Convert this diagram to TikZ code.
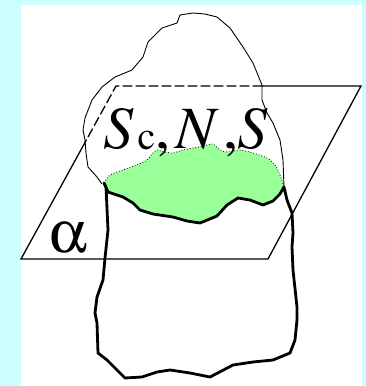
\documentclass[tikz,border=0pt]{standalone}
\usepackage[T1]{fontenc}
\usepackage[Symbol]{upgreek}
\newcommand{\timesfam}{\fontencoding{T1}\fontfamily{ptm}\selectfont}
\definecolor{frame}{RGB}{204,255,255}
\definecolor{section}{RGB}{153,255,153}
\tikzset{
  planeline/.style={line width=1.3pt, line cap=round},
  thinrim/.style={line width=0.9pt, line join=round},
  thickrim/.style={line width=2.8pt, line join=round, line cap=round},
  bigtext/.style={inner sep=0pt, font=\timesfam\fontsize{60}{60}\selectfont}
}
\begin{document}
\begin{tikzpicture}[x=1pt, y=-1pt]
  % page background and white panel
  \fill[frame] (0,0) rectangle (366,386);
  \fill[white] (21,5) rectangle (362,386);
  \useasboundingbox (0,0) rectangle (366,386);

  % green cross-section
  \fill[section] plot[smooth, tension=0.4] coordinates {(104,183) (110,175) (123,170) (137,165) (147,160) (152,154) (157,150) (165,152) (173,153) (183,150) (193,148) (203,146) (213,144) (220,150) (227,152) (240,150) (253,153) (267,158) (275,165) (280,175) (284,187)}
    -- plot[smooth, tension=0.4] coordinates {(284,187) (280,194) (273,201) (263,205) (250,200) (238,198) (227,205) (217,216) (200,223) (187,221) (173,217) (153,214) (140,210) (133,203) (123,197) (108,192) (104,183)} -- cycle;

  % plane alpha
  \coordinate (pTL) at (116,86);
  \coordinate (pTR) at (361,86);
  \coordinate (pBR) at (268,259);
  \coordinate (pBL) at (21,259);
  \coordinate (pTop) at (262,86);
  \coordinate (pLeft) at (86.35,140);
  \draw[planeline] (pLeft) -- (pBL) -- (pBR) -- (pTR) -- (pTop);
  \draw[planeline, dash pattern=on 9pt off 4pt] (pTop) -- (pTL) -- (pLeft);

  % upper part of the body, thin outline
  \draw[thinrim] (102,184) -- (97,177) -- (88,167) -- (86,153) -- (85,140) -- (83,130) -- (85,118) -- (92,100) -- (102,87) -- (115,77) -- (132,70) -- (143,57) -- (148,42) -- (162,28) -- (177,23) -- (180,15) -- (193,13) -- (205,14) -- (217,17) -- (230,28) -- (243,47) -- (253,63) -- (262,85) -- (262,100) -- (267,113) -- (273,123) -- (280,140) -- (283,160) -- (284,187);

  % dotted rim of the section
  \draw[line width=0.8pt, dotted] plot[smooth, tension=0.4] coordinates {(104,183) (110,175) (123,170) (137,165) (147,160) (152,154) (157,150) (165,152) (173,153) (183,150) (193,148) (203,146) (213,144) (220,150) (227,152) (240,150) (253,153) (267,158) (275,165) (280,175) (284,187)};

  % lower part of the body, thick outline
  \draw[thickrim] (104,183) -- (108,192) -- (123,197) -- (133,203) -- (140,210) -- (153,214) -- (173,217) -- (187,221) -- (200,223) -- (217,216) -- (227,205) -- (238,198) -- (250,200) -- (263,205) -- (273,201) -- (280,194) -- (284,187)
    -- (287,200) -- (292,213) -- (293,233) -- (292,247) -- (293,270) -- (297,307) -- (297,320) -- (295,340) -- (290,353) -- (273,360) -- (253,362) -- (233,365) -- (210,377) -- (190,373) -- (170,370) -- (157,372) -- (142,377) -- (125,378) -- (107,360) -- (98,353) -- (97,323) -- (95,313) -- (97,297) -- (103,280) -- (105,258) -- (108,230) -- (106,187) -- cycle;

  % labels
  \node[bigtext, anchor=base west] (lab) at (103,148) {\textit{S}\kern4pt\raisebox{-1.5pt}{\fontsize{40}{40}\selectfont c},\kern5pt\textit{N}\kern4pt,\kern-1pt\textit{S}};
  \node[inner sep=0pt, anchor=base west] (alpha) at (49,252) {\fontsize{60}{60}\selectfont$\upalpha$};
\end{tikzpicture}
\end{document}
